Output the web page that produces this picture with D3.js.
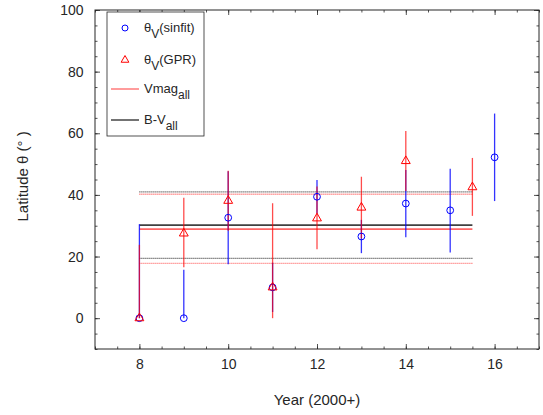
<!DOCTYPE html>
<html>
<head>
<meta charset="utf-8">
<script src="https://cdn.jsdelivr.net/npm/d3@7"></script>
<style>
  body { margin: 0; background: #fff; }
  svg text { font-family: "Liberation Sans", Arial, sans-serif; fill: #262626; }
</style>
</head>
<body>
<svg id="chart" width="543" height="415"></svg>
<script>
// sinfit estimates (blue circles)
let yearsSin = [8, 9, 10, 11, 12, 13, 14, 15, 16],
    thetaSin = [0, 0, 32.6, 10, 39.4, 26.5, 37.2, 35.0, 52.2],
    sinLo    = [0, 0, 17.5, 2, 34.0, 21.1, 26.3, 21.3, 38.0],
    sinHi    = [30.5, 15.7, 47.7, 18, 44.8, 31.9, 48.1, 48.5, 66.4];

// GPR estimates (red triangles)
let yearsGpr = [8, 9, 10, 11, 12, 13, 14, 15.5],
    thetaGpr = [0, 27.5, 38.1, 10, 32.4, 35.9, 51.0, 42.5],
    gprLo    = [0, 16.5, 28.4, 0, 22.4, 25.9, 41.3, 33.2],
    gprHi    = [23.8, 39.1, 47.8, 37.3, 42.7, 45.9, 60.7, 52.0];

// mean levels over all years: [mean, lower, upper]
let meanSpan = [8, 15.5],
    vmagAll = [28.9, 17.8, 40.2],
    bvAll   = [30.2, 19.4, 41.0];

let xTicks = [8, 10, 12, 14, 16],
    yTicks = [0, 20, 40, 60, 80, 100];

let margin = {top: 10, right: 4, bottom: 66, left: 95},
    width = 543 - margin.left - margin.right,
    height = 415 - margin.top - margin.bottom;

let x = d3.scaleLinear().domain([7, 17]).range([0, width]);
let y = d3.scaleLinear().domain([-10, 100]).range([height, 0]);

let svg = d3.select("#chart")
  .append("g")
  .attr("transform", "translate(" + margin.left + "," + margin.top + ")");

// axes with inward ticks (minor first, then major with labels)
let xMinor = d3.range(7, 17.01, 0.5), yMinor = d3.range(-10, 100.01, 5);

function tickAxis(axis, scale, ticks, len, labels) {
  return axis(scale).tickValues(ticks).tickSizeInner(-len).tickSizeOuter(0)
    .tickPadding(labels ? 10 : 0).tickFormat(labels ? d3.format("d") : "");
}

let axes = [
  [d3.axisBottom, x, "translate(0," + height + ")", true, xMinor, xTicks],
  [d3.axisTop, x, "translate(0,0)", false, xMinor, xTicks],
  [d3.axisLeft, y, "translate(0,0)", true, yMinor, yTicks],
  [d3.axisRight, y, "translate(" + width + ",0)", false, yMinor, yTicks]
];
axes.forEach(a => {
  let gMin = svg.append("g").attr("transform", a[2]).call(tickAxis(a[0], a[1], a[4], 2.5, false));
  let gMaj = svg.append("g").attr("transform", a[2]).call(tickAxis(a[0], a[1], a[5], 5, a[3]));
  [gMin, gMaj].forEach(g => {
    g.select(".domain").remove();
    g.selectAll("line").attr("stroke", "#262626").attr("stroke-width", 0.8);
    g.selectAll("text").style("font-size", "14px").attr("fill", "#262626");
  });
  if (a[0] === d3.axisLeft) gMaj.selectAll("text").attr("dx", "-0.1em");
});

svg.append("rect")
  .attr("width", width).attr("height", height)
  .attr("fill", "none").attr("stroke", "#262626").attr("stroke-width", 1);

// mean level lines
function levels(vals, color, opacity) {
  vals.forEach((v, i) => {
    svg.append("line")
      .attr("x1", x(meanSpan[0])).attr("x2", x(meanSpan[1]))
      .attr("y1", y(v)).attr("y2", y(v))
      .attr("stroke", color).attr("stroke-opacity", opacity)
      .attr("stroke-width", i === 0 ? 1.6 : 1.4)
      .attr("stroke-dasharray", i === 0 ? null : "1,1");
  });
}
levels(bvAll, "#000", 0.75);
levels(vmagAll, "#ff0000", 0.6);

// blue error bars and circles
let sin = yearsSin.map((d, i) => ({x: d, v: thetaSin[i], lo: sinLo[i], hi: sinHi[i]}));
let gpr = yearsGpr.map((d, i) => ({x: d, v: thetaGpr[i], lo: gprLo[i], hi: gprHi[i]}));

svg.selectAll(".sinbar").data(sin).enter().append("line")
  .attr("x1", d => x(d.x)).attr("x2", d => x(d.x))
  .attr("y1", d => y(d.lo)).attr("y2", d => y(d.hi))
  .attr("stroke", "#0000ff").attr("stroke-opacity", 0.8).attr("stroke-width", 1.3);

svg.selectAll(".gprbar").data(gpr).enter().append("line")
  .attr("x1", d => x(d.x)).attr("x2", d => x(d.x))
  .attr("y1", d => y(d.lo)).attr("y2", d => y(d.hi))
  .attr("stroke", "#ff0000").attr("stroke-opacity", 0.7).attr("stroke-width", 1.3);

svg.selectAll(".sinpt").data(sin).enter().append("circle")
  .attr("cx", d => x(d.x)).attr("cy", d => y(d.v)).attr("r", 3.4)
  .attr("fill", "none").attr("stroke", "#0000ff").attr("stroke-width", 1);

let tri = d3.symbol().type(d3.symbolTriangle).size(34);
svg.selectAll(".gprpt").data(gpr).enter().append("path")
  .attr("d", tri)
  .attr("transform", d => "translate(" + x(d.x) + "," + y(d.v) + ")")
  .attr("fill", "none").attr("stroke", "#ff0000").attr("stroke-width", 1);

// axis labels
d3.select("#chart").append("text")
  .attr("x", margin.left + width / 2).attr("y", 405)
  .attr("text-anchor", "middle").style("font-size", "15px")
  .text("Year (2000+)");

d3.select("#chart").append("text")
  .attr("transform", "translate(28," + (margin.top + y(46)) + ") rotate(-90)")
  .attr("text-anchor", "middle").style("font-size", "15px")
  .text("Latitude θ (° )");

// legend
let lg = svg.append("g").attr("transform", "translate(" + (x(7) + 12) + ",2)");
lg.append("rect").attr("width", 97).attr("height", 124)
  .attr("fill", "#fff").attr("stroke", "#262626").attr("stroke-width", 0.8);

let legendItems = [
  {label: "θ", sub: "V", tail: "(sinfit)", kind: "circle", ly: 16},
  {label: "θ", sub: "V", tail: "(GPR)", kind: "tri", ly: 48},
  {label: "Vmag", sub: "all", tail: "", kind: "vline", ly: 77},
  {label: "B-V", sub: "all", tail: "", kind: "bline", ly: 108}
];
legendItems.forEach(it => {
  if (it.kind === "circle") {
    lg.append("circle").attr("cx", 18).attr("cy", it.ly).attr("r", 3)
      .attr("fill", "none").attr("stroke", "#0000ff");
  } else if (it.kind === "tri") {
    lg.append("path").attr("d", d3.symbol().type(d3.symbolTriangle).size(26))
      .attr("transform", "translate(18," + it.ly + ")")
      .attr("fill", "none").attr("stroke", "#ff0000");
  } else {
    lg.append("line").attr("x1", 4).attr("x2", 32).attr("y1", it.ly).attr("y2", it.ly)
      .attr("stroke", it.kind === "vline" ? "#ff0000" : "#000")
      .attr("stroke-opacity", it.kind === "vline" ? 0.6 : 0.85)
      .attr("stroke-width", 1.3);
  }
  let t = lg.append("text").attr("x", 37).attr("y", it.ly + 4).style("font-size", "13px");
  t.append("tspan").text(it.label);
  t.append("tspan").attr("dy", 6).style("font-size", "12px").text(it.sub);
  if (it.tail) t.append("tspan").attr("dy", -6).text(it.tail);
});
</script>
</body>
</html>
